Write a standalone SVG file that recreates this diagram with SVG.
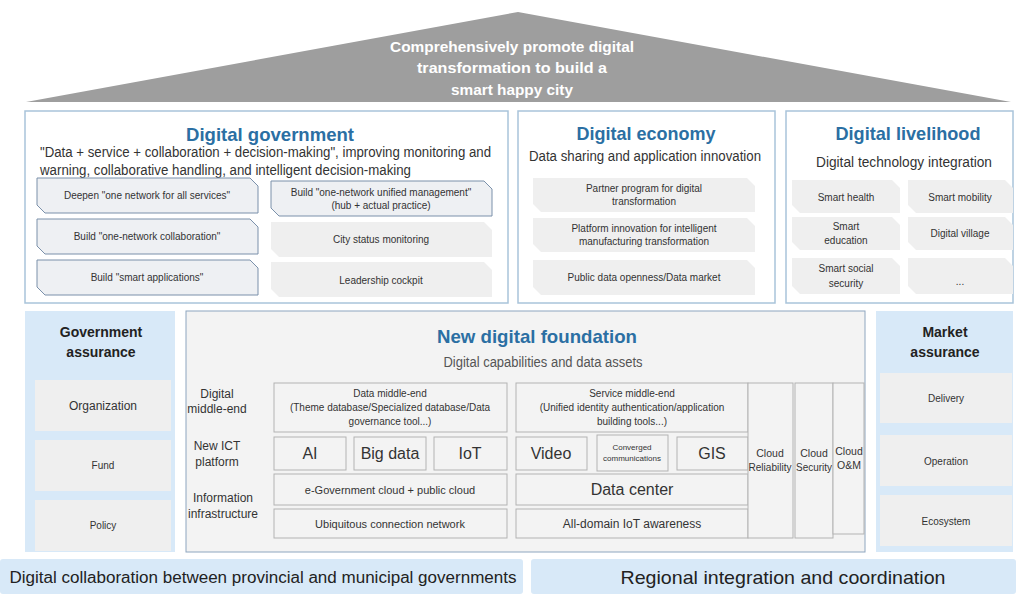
<svg xmlns="http://www.w3.org/2000/svg" width="1016" height="594" viewBox="0 0 1016 594">
<style>
text{font-family:"Liberation Sans","Noto Sans",sans-serif;fill:#333;text-anchor:middle}
.roof{fill:#fff;font-weight:bold;font-size:15px}
.ttl{fill:#2b6fa3;font-weight:bold;font-size:19px}
.sub{font-size:14px}
.sm{font-size:10px}
.md{font-size:11px}
.cl{font-size:10.5px}
.lb{font-size:12px}
.big{font-size:16px}
.hd{font-weight:bold;font-size:14px;fill:#222}
.panel{fill:#fff;stroke:#a9c4da;stroke-width:1.5}
.chb{fill:#eef0f3;stroke:#7a90aa;stroke-width:1}
.chg{fill:#efefef}
.lblue{fill:#d8e9f8}
.gbox{fill:#efefef}
.fnd{fill:#f3f3f3;stroke:#8ea6bf;stroke-width:1}
.cell{fill:#f3f3f3;stroke:#b3b3b3;stroke-width:1}
</style>

<g id="roof">
<polygon points="26,102 518,12 1011,102" fill="#9e9e9e"/>
<text class="roof" x="512" y="52" textLength="244" lengthAdjust="spacingAndGlyphs">Comprehensively promote digital</text>
<text class="roof" x="512" y="73" textLength="190" lengthAdjust="spacingAndGlyphs">transformation to build a</text>
<text class="roof" x="512" y="95" textLength="122" lengthAdjust="spacingAndGlyphs">smart happy city</text>
</g>

<g id="digital-government">
<rect class="panel" x="25" y="111" width="483" height="192"/>
<text class="ttl" x="270" y="141" textLength="168" lengthAdjust="spacingAndGlyphs">Digital government</text>
<text class="sub" x="40" y="157" style="text-anchor:start" textLength="451" lengthAdjust="spacingAndGlyphs">"Data + service + collaboration + decision-making", improving monitoring and</text>
<text class="sub" x="40" y="175" style="text-anchor:start" textLength="371" lengthAdjust="spacingAndGlyphs">warning, collaborative handling, and intelligent decision-making</text>
<g id="g-deepen"><path class="chb" d="M37,178H250L258,186V213H45L37,205Z"/><text class="sm" x="147" y="199">Deepen "one network for all services"</text></g>
<g id="g-collab"><path class="chb" d="M37,219H250L258,227V254H45L37,246Z"/><text class="sm" x="147" y="240">Build "one-network collaboration"</text></g>
<g id="g-smart"><path class="chb" d="M37,260H250L258,268V295H45L37,287Z"/><text class="sm" x="147" y="281">Build "smart applications"</text></g>
<g id="g-unified"><path class="chb" d="M271,181H484L492,189V216H279L271,208Z"/><text class="sm" x="381" y="196">Build "one-network unified management"</text><text class="sm" x="381" y="209">(hub + actual practice)</text></g>
<g id="g-city"><path class="chg" d="M271,222H484L492,230V257H279L271,249Z"/><text class="sm" x="381" y="243">City status monitoring</text></g>
<g id="g-cockpit"><path class="chg" d="M271,262H484L492,270V297H279L271,289Z"/><text class="sm" x="381" y="284">Leadership cockpit</text></g>
</g>

<g id="digital-economy">
<rect class="panel" x="518" y="111" width="257" height="192"/>
<text class="ttl" x="646" y="140" textLength="139" lengthAdjust="spacingAndGlyphs">Digital economy</text>
<text class="sub" x="645" y="161" textLength="232" lengthAdjust="spacingAndGlyphs">Data sharing and application innovation</text>
<g id="e-partner"><path class="chg" d="M533,178H747L755,186V212H541L533,204Z"/><text class="sm" x="644" y="192">Partner program for digital</text><text class="sm" x="644" y="205">transformation</text></g>
<g id="e-platform"><path class="chg" d="M533,218H747L755,226V252H541L533,244Z"/><text class="sm" x="644" y="232">Platform innovation for intelligent</text><text class="sm" x="644" y="245">manufacturing transformation</text></g>
<g id="e-public"><path class="chg" d="M533,260H747L755,268V295H541L533,287Z"/><text class="sm" x="644" y="281">Public data openness/Data market</text></g>
</g>

<g id="digital-livelihood">
<rect class="panel" x="786" y="111" width="227" height="192"/>
<text class="ttl" x="908" y="140" textLength="145" lengthAdjust="spacingAndGlyphs">Digital livelihood</text>
<text class="sub" x="904" y="167" textLength="176" lengthAdjust="spacingAndGlyphs">Digital technology integration</text>
<g id="l-health"><path class="chg" d="M792,180H892L900,188V213H800L792,205Z"/><text class="sm" x="846" y="201">Smart health</text></g>
<g id="l-mobility"><path class="chg" d="M908,180H1005L1013,188V213H916L908,205Z"/><text class="sm" x="960" y="201">Smart mobility</text></g>
<g id="l-education"><path class="chg" d="M792,217H892L900,225V250H800L792,242Z"/><text class="sm" x="846" y="230">Smart</text><text class="sm" x="846" y="244">education</text></g>
<g id="l-village"><path class="chg" d="M908,217H1005L1013,225V250H916L908,242Z"/><text class="sm" x="960" y="237">Digital village</text></g>
<g id="l-social"><path class="chg" d="M792,258H892L900,266V294H800L792,286Z"/><text class="sm" x="846" y="272">Smart social</text><text class="sm" x="846" y="287">security</text></g>
<g id="l-more"><path class="chg" d="M908,258H1005L1013,266V294H916L908,286Z"/><text class="sm" x="960" y="285">...</text></g>
</g>

<g id="government-assurance">
<rect class="lblue" x="25" y="311" width="150" height="241"/>
<text class="hd" x="101" y="337">Government</text>
<text class="hd" x="101" y="357">assurance</text>
<g id="ga-org"><rect class="gbox" x="35" y="380" width="136" height="51"/><text class="lb" x="103" y="410">Organization</text></g>
<g id="ga-fund"><rect class="gbox" x="35" y="440" width="136" height="51"/><text class="sm" x="103" y="469">Fund</text></g>
<g id="ga-policy"><rect class="gbox" x="35" y="500" width="136" height="51"/><text class="sm" x="103" y="529">Policy</text></g>
</g>

<g id="new-digital-foundation">
<rect class="fnd" x="186" y="311" width="679" height="241"/>
<text class="ttl" x="537" y="343" textLength="200" lengthAdjust="spacingAndGlyphs">New digital foundation</text>
<text class="sub" x="543" y="367" style="fill:#555" textLength="199" lengthAdjust="spacingAndGlyphs">Digital capabilities and data assets</text>
<text class="lb" x="217" y="398">Digital</text><text class="lb" x="217" y="413">middle-end</text>
<text class="lb" x="217" y="450">New ICT</text><text class="lb" x="217" y="466">platform</text>
<text class="lb" x="223" y="502">Information</text><text class="lb" x="223" y="518">infrastructure</text>
<g id="f-data-me"><rect class="cell" x="274" y="383" width="233" height="49"/><text class="sm" x="390" y="397">Data middle-end</text><text class="sm" x="390" y="411">(Theme database/Specialized database/Data</text><text class="sm" x="390" y="425">governance tool...)</text></g>
<g id="f-ai"><rect class="cell" x="274" y="437" width="72" height="33"/><text class="big" x="310" y="459">AI</text></g>
<g id="f-bigdata"><rect class="cell" x="354" y="437" width="72" height="33"/><text class="big" x="390" y="459">Big data</text></g>
<g id="f-iot"><rect class="cell" x="434" y="437" width="73" height="33"/><text class="big" x="470" y="459">IoT</text></g>
<g id="f-egov"><rect class="cell" x="274" y="474" width="233" height="31"/><text class="md" x="390" y="494">e-Government cloud + public cloud</text></g>
<g id="f-ubiq"><rect class="cell" x="274" y="509" width="233" height="29"/><text class="md" x="390" y="528">Ubiquitous connection network</text></g>
<g id="f-service-me"><rect class="cell" x="516" y="383" width="232" height="49"/><text class="sm" x="632" y="397">Service middle-end</text><text class="sm" x="632" y="411">(Unified identity authentication/application</text><text class="sm" x="632" y="425">building tools...)</text></g>
<g id="f-video"><rect class="cell" x="516" y="437" width="71" height="33"/><text class="big" x="551" y="459">Video</text></g>
<g id="f-conv"><rect class="cell" x="597" y="435" width="71" height="36"/><text style="font-size:8px" x="632" y="450">Converged</text><text style="font-size:8px" x="632" y="461">communications</text></g>
<g id="f-gis"><rect class="cell" x="677" y="437" width="71" height="33"/><text class="big" x="712" y="459">GIS</text></g>
<g id="f-dc"><rect class="cell" x="516" y="474" width="232" height="31"/><text class="big" x="632" y="495">Data center</text></g>
<g id="f-alldomain"><rect class="cell" x="516" y="509" width="232" height="29"/><text class="lb" x="632" y="528">All-domain IoT awareness</text></g>
<g id="f-reliab"><rect class="cell" x="748" y="383" width="45" height="155"/><text class="cl" x="770" y="457">Cloud</text><text class="cl" x="770" y="471" textLength="43" lengthAdjust="spacingAndGlyphs">Reliability</text></g>
<g id="f-security"><rect class="cell" x="795" y="383" width="38" height="155"/><text class="cl" x="814" y="457">Cloud</text><text class="cl" x="814" y="471" textLength="36" lengthAdjust="spacingAndGlyphs">Security</text></g>
<g id="f-om"><rect class="cell" x="833" y="383" width="31" height="151"/><text class="cl" x="849" y="455">Cloud</text><text class="cl" x="849" y="469">O&amp;M</text></g>
</g>

<g id="market-assurance">
<rect class="lblue" x="876" y="311" width="137" height="241"/>
<text class="hd" x="945" y="337">Market</text>
<text class="hd" x="945" y="357">assurance</text>
<g id="ma-delivery"><rect class="gbox" x="880" y="373" width="132" height="50"/><text class="sm" x="946" y="402">Delivery</text></g>
<g id="ma-operation"><rect class="gbox" x="880" y="435" width="132" height="51"/><text class="sm" x="946" y="465">Operation</text></g>
<g id="ma-ecosystem"><rect class="gbox" x="880" y="495" width="132" height="51"/><text class="sm" x="946" y="525">Ecosystem</text></g>
</g>

<g id="bottom-left">
<rect class="lblue" x="0" y="559" width="523" height="35" rx="3"/>
<text x="263" y="583" style="font-size:16px;fill:#222" textLength="507" lengthAdjust="spacingAndGlyphs">Digital collaboration between provincial and municipal governments</text>
</g>
<g id="bottom-right">
<rect class="lblue" x="531" y="559" width="485" height="35" rx="3"/>
<text x="783" y="584" style="font-size:19px;fill:#222" textLength="325" lengthAdjust="spacingAndGlyphs">Regional integration and coordination</text>
</g>

<g id="connectors"></g>
</svg>
